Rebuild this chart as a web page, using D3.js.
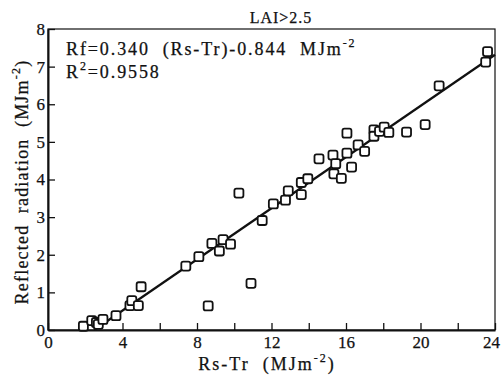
<!DOCTYPE html>
<html>
<head>
<meta charset="utf-8">
<script src="https://cdn.jsdelivr.net/npm/d3@7"></script>
<style>
  body { margin: 0; background: #fff; }
  svg text { font-family: "Liberation Serif", "DejaVu Serif", serif; fill: #111; white-space: pre; stroke: #111; stroke-width: 0.25; }
</style>
</head>
<body>
<script>
// Rs-Tr (MJm-2) and reflected radiation (MJm-2)
const rsTr = [1.9, 2.35, 2.6, 2.7, 2.95, 3.65, 4.4, 4.5, 4.85, 5.0,
  7.4, 8.1, 8.8, 9.2, 9.4, 9.8, 8.6, 10.25, 10.9, 11.5,
  12.1, 12.75, 12.9, 13.6, 13.6, 13.95, 14.55, 15.3, 15.45, 15.35,
  15.75, 16.05, 16.3, 16.05, 16.65, 17.0, 17.5, 17.5, 17.8, 18.05,
  18.3, 19.25, 20.25, 21.0, 23.5, 23.6];
const reflected = [0.1, 0.25, 0.2, 0.15, 0.28, 0.38, 0.65, 0.78, 0.65, 1.15,
  1.7, 1.95, 2.3, 2.1, 2.4, 2.28, 0.64, 3.64, 1.24, 2.91,
  3.35, 3.45, 3.7, 3.6, 3.92, 4.02, 4.55, 4.65, 4.42, 4.15,
  4.03, 4.7, 4.33, 5.23, 4.92, 4.75, 5.32, 5.15, 5.28, 5.39,
  5.25, 5.26, 5.46, 6.49, 7.12, 7.4];

// regression Rf = 0.340 (Rs-Tr) - 0.844
const slope = 0.340;
const intercept = -0.844;
const fitRange = [2.48, 24];

const xTicks = d3.range(0, 25, 2);
const yTicks = d3.range(0, 9, 1);

const width = 501, height = 376;
const margin = { top: 29, right: 6, bottom: 46, left: 48 };

const svg = d3.select('body').append('svg')
  .attr('width', width)
  .attr('height', height);

let x = d3.scaleLinear().domain([0, 24]).range([margin.left, width - margin.right]);
let y = d3.scaleLinear().domain([0, 8]).range([height - margin.bottom, margin.top]);

// frame
svg.append('rect')
  .attr('x', x(0)).attr('y', y(8))
  .attr('width', x(24) - x(0)).attr('height', y(0) - y(8))
  .attr('fill', 'none').attr('stroke', '#111').attr('stroke-width', 1.2);

let xAxis = svg.append('g')
  .attr('transform', `translate(0,${y(0)})`)
  .call(d3.axisBottom(x).tickValues(xTicks).tickSizeInner(-7).tickSizeOuter(0).tickPadding(6)
    .tickFormat(d => d % 4 === 0 ? d : ''));
let yAxis = svg.append('g')
  .attr('transform', `translate(${x(0)},0)`)
  .call(d3.axisLeft(y).tickValues(yTicks).tickSizeInner(-7).tickSizeOuter(0).tickPadding(3));

[xAxis, yAxis].forEach(g => {
  g.select('.domain').attr('stroke', '#111').attr('stroke-width', 2);
  g.selectAll('.tick line').attr('stroke', '#111').attr('stroke-width', 1.3);
  g.selectAll('.tick text').attr('font-size', 17).attr('font-family', '"Liberation Serif", serif').attr('fill', '#111');
});
// keep the last label inside the page
xAxis.selectAll('.tick text').filter(d => d === 24).attr('dx', -4);

// fit line
svg.append('line')
  .attr('x1', x(fitRange[0])).attr('y1', y(slope * fitRange[0] + intercept))
  .attr('x2', x(fitRange[1])).attr('y2', y(slope * fitRange[1] + intercept))
  .attr('stroke', '#111').attr('stroke-width', 2.2);

// points
svg.append('g').selectAll('rect')
  .data(rsTr.map((d, i) => [d, reflected[i]]))
  .enter().append('rect')
  .attr('x', d => x(d[0]) - 4.5)
  .attr('y', d => y(d[1]) - 4.5)
  .attr('width', 9).attr('height', 9)
  .attr('rx', 2)
  .attr('fill', '#fff').attr('stroke', '#111').attr('stroke-width', 1.8);

// title
svg.append('text').attr('x', 281).attr('y', 23).attr('text-anchor', 'middle')
  .attr('font-size', 16).attr('letter-spacing', 1).text('LAI>2.5');

// equation
let eq = svg.append('text').attr('x', 66).attr('y', 55).attr('font-size', 18).attr('letter-spacing', 1.9);
eq.append('tspan').text('Rf=0.340  (Rs-Tr)-0.844  MJm');
eq.append('tspan').attr('font-size', 12).attr('dy', -8).text('-2');

let r2 = svg.append('text').attr('x', 66).attr('y', 78).attr('font-size', 18).attr('letter-spacing', 1.9);
r2.append('tspan').text('R');
r2.append('tspan').attr('font-size', 12).attr('dy', -8).text('2');
r2.append('tspan').attr('dy', 8).text('=0.9558');

// axis labels
let xl = svg.append('text').attr('x', 267).attr('y', 370).attr('text-anchor', 'middle')
  .attr('font-size', 18).attr('letter-spacing', 2);
xl.append('tspan').text('Rs-Tr  (MJm');
xl.append('tspan').attr('font-size', 12).attr('dy', -8).text('-2');
xl.append('tspan').attr('dy', 8).text(')');

let yl = svg.append('text').attr('transform', 'translate(28,182) rotate(-90)')
  .attr('text-anchor', 'middle').attr('font-size', 18).attr('letter-spacing', 1.2);
yl.append('tspan').text('Reflected  radiation  (MJm');
yl.append('tspan').attr('font-size', 12).attr('dy', -8).text('-2');
yl.append('tspan').attr('dy', 8).text(')');
</script>
</body>
</html>
